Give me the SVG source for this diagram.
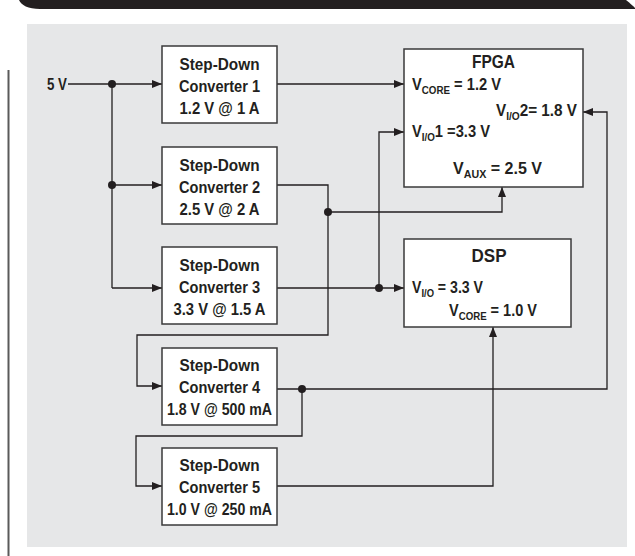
<svg xmlns="http://www.w3.org/2000/svg" width="635" height="556" viewBox="0 0 635 556">
<defs>
<style>
.bg{fill:#e6e7e8}
.box{fill:#fff;stroke:#3a3a3a;stroke-width:1.5}
.wire{fill:none;stroke:#231f20;stroke-width:1.3}
.arr{marker-end:url(#ah)}
.dot{fill:#231f20}
text{font-family:"Liberation Sans",Arial,sans-serif;font-weight:bold;fill:#231f20}
.bt{font-size:17px;text-anchor:middle}
.lb{font-size:16.5px}
.sub{font-size:11px}
.ttl{font-size:17.5px;text-anchor:middle}
</style>
<marker id="ah" markerWidth="10" markerHeight="8" refX="10" refY="4" orient="auto" markerUnits="userSpaceOnUse">
<path d="M0,0 L10,4 L0,8 Z" fill="#231f20"/>
</marker>
</defs>
<rect width="635" height="556" fill="#fff"/>
<path d="M19,0 H626 C630,3 633,6 635,8 V9 H40 C28,9 21,5 19,0 Z" fill="#231f20"/>
<line x1="8.5" y1="70" x2="8.5" y2="556" stroke="#5a5a5a" stroke-width="2"/>
<rect class="bg" x="27" y="24" width="600" height="523"/>

<g id="connectors">
<path class="wire arr" d="M68,84 H162"/>
<path class="wire" d="M112,84 V288"/>
<path class="wire arr" d="M112,185 H162"/>
<path class="wire arr" d="M112,288 H162"/>
<path class="wire arr" d="M277,84 H404"/>
<path class="wire arr" d="M277,185 H328 V335 H137 V386 H162"/>
<path class="wire arr" d="M328,212 H502 V187"/>
<path class="wire arr" d="M277,288 H404"/>
<path class="wire arr" d="M379,288 V132 H404"/>
<path class="wire arr" d="M277,389 H607 V112 H583"/>
<path class="wire arr" d="M302,389 V436 H136 V486 H162"/>
<path class="wire arr" d="M277,486 H493 V327"/>
<circle class="dot" cx="112" cy="84" r="4"/>
<circle class="dot" cx="112" cy="185" r="4"/>
<circle class="dot" cx="328" cy="212" r="4"/>
<circle class="dot" cx="379" cy="288" r="4"/>
<circle class="dot" cx="302" cy="389" r="4"/>
</g>

<g id="input">
<text class="lb" x="47" y="90" textLength="20" lengthAdjust="spacingAndGlyphs">5 V</text>
</g>

<g id="conv1">
<rect class="box" x="162" y="46" width="115" height="77"/>
<text class="bt" x="219.5" y="70" textLength="80" lengthAdjust="spacingAndGlyphs">Step-Down</text>
<text class="bt" x="219.5" y="92" textLength="81" lengthAdjust="spacingAndGlyphs">Converter 1</text>
<text class="bt" x="219.5" y="114" textLength="80" lengthAdjust="spacingAndGlyphs">1.2 V @ 1 A</text>
</g>
<g id="conv2">
<rect class="box" x="162" y="147" width="115" height="77"/>
<text class="bt" x="219.5" y="171" textLength="80" lengthAdjust="spacingAndGlyphs">Step-Down</text>
<text class="bt" x="219.5" y="193" textLength="81" lengthAdjust="spacingAndGlyphs">Converter 2</text>
<text class="bt" x="219.5" y="215" textLength="80" lengthAdjust="spacingAndGlyphs">2.5 V @ 2 A</text>
</g>
<g id="conv3">
<rect class="box" x="162" y="247" width="115" height="77"/>
<text class="bt" x="219.5" y="271" textLength="80" lengthAdjust="spacingAndGlyphs">Step-Down</text>
<text class="bt" x="219.5" y="293" textLength="81" lengthAdjust="spacingAndGlyphs">Converter 3</text>
<text class="bt" x="219.5" y="315" textLength="92" lengthAdjust="spacingAndGlyphs">3.3 V @ 1.5 A</text>
</g>
<g id="conv4">
<rect class="box" x="162" y="348" width="115" height="77"/>
<text class="bt" x="219.5" y="371" textLength="80" lengthAdjust="spacingAndGlyphs">Step-Down</text>
<text class="bt" x="219.5" y="393" textLength="81" lengthAdjust="spacingAndGlyphs">Converter 4</text>
<text class="bt" x="219.5" y="415" textLength="105" lengthAdjust="spacingAndGlyphs">1.8 V @ 500 mA</text>
</g>
<g id="conv5">
<rect class="box" x="162" y="448" width="115" height="77"/>
<text class="bt" x="219.5" y="471" textLength="80" lengthAdjust="spacingAndGlyphs">Step-Down</text>
<text class="bt" x="219.5" y="493" textLength="81" lengthAdjust="spacingAndGlyphs">Converter 5</text>
<text class="bt" x="219.5" y="515" textLength="105" lengthAdjust="spacingAndGlyphs">1.0 V @ 250 mA</text>
</g>

<g id="fpga">
<rect class="box" x="404" y="49" width="179" height="138"/>
<text class="ttl" x="493.5" y="68" textLength="43" lengthAdjust="spacingAndGlyphs">FPGA</text>
<text class="lb" x="412" y="90" textLength="89" lengthAdjust="spacingAndGlyphs">V<tspan class="sub" dy="4">CORE</tspan><tspan dy="-4"> = 1.2 V</tspan></text>
<text class="lb" x="496" y="116" textLength="81" lengthAdjust="spacingAndGlyphs">V<tspan class="sub" dy="4">I/O</tspan><tspan dy="-4">2= 1.8 V</tspan></text>
<text class="lb" x="412" y="137" textLength="78" lengthAdjust="spacingAndGlyphs">V<tspan class="sub" dy="4">I/O</tspan><tspan dy="-4">1 =3.3 V</tspan></text>
<text class="lb" x="453" y="174" textLength="89" lengthAdjust="spacingAndGlyphs">V<tspan class="sub" dy="4">AUX</tspan><tspan dy="-4"> = 2.5 V</tspan></text>
</g>

<g id="dsp">
<rect class="box" x="404" y="239" width="167" height="88"/>
<text class="ttl" x="489" y="262" textLength="35" lengthAdjust="spacingAndGlyphs">DSP</text>
<text class="lb" x="412" y="293" textLength="71" lengthAdjust="spacingAndGlyphs">V<tspan class="sub" dy="3.5">I/O</tspan><tspan dy="-3.5"> = 3.3 V</tspan></text>
<text class="lb" x="449" y="316" textLength="88" lengthAdjust="spacingAndGlyphs">V<tspan class="sub" dy="3.5">CORE</tspan><tspan dy="-3.5"> = 1.0 V</tspan></text>
</g>
</svg>
